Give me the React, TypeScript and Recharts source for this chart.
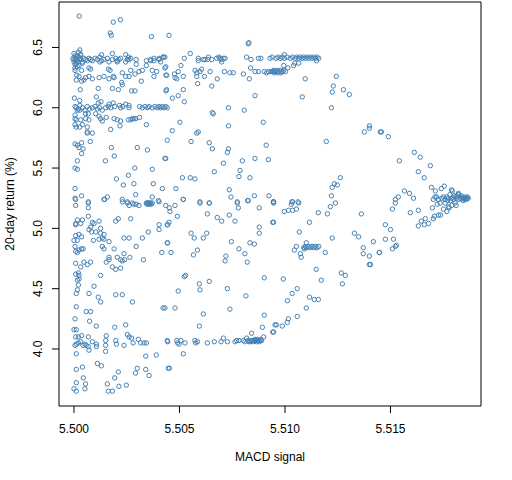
import React from 'react';
import { ScatterChart, Scatter, XAxis, YAxis, ReferenceArea } from 'recharts';

type Pt = [number, number];

const FONT = '"Liberation Sans", Arial, Helvetica, sans-serif';
const POINT_COLOR = '#4682B4';

const xTicks = [5.5, 5.505, 5.51, 5.515];
const yTicks = [4.0, 4.5, 5.0, 5.5, 6.0, 6.5];
const xDomain: [number, number] = [5.49929, 5.51929];
const yDomain: [number, number] = [3.527, 6.877];

const upperLeft: Pt[] = [
  [5.50025,6.76],[5.50186,6.71],[5.5022,6.73],[5.50172,6.62],[5.50177,6.6],[5.50367,6.59],[5.5045,6.6],
  [5.5,6.4],[5.50008,6.41],[5.50016,6.39],[5.50024,6.42],[5.50032,6.4],[5.5004,6.38],[5.50047,6.41],[5.50055,6.4],[5.50063,6.39],[5.50071,6.41],[5.50079,6.4],[5.50087,6.39],[5.501,6.41],[5.50111,6.4],[5.50122,6.42],[5.50131,6.39],[5.50142,6.4],[5.50158,6.41],[5.50166,6.38],[5.50182,6.4],[5.50198,6.41],[5.50205,6.39],[5.50213,6.4],[5.50221,6.41],[5.50245,6.38],[5.50253,6.4],[5.50269,6.41],[5.50295,6.4],[5.50343,6.39],[5.50363,6.4],[5.50379,6.41],[5.50403,6.4],[5.50411,6.38],[5.50423,6.42],
  [5.5,6.45],[5.50005,6.43],[5.50008,6.4],[5.5,6.38],[5.50011,6.37],[5.50016,6.43],[5.50021,6.38],[5.50027,6.4],[5.50005,6.36],[5.50032,6.44],[5.49995,6.41],[5.50016,6.34],[5.50024,6.35],[5.5004,6.37],[5.50005,6.31],
  [5.50028,6.48],[5.50021,6.46],[5.5003,6.44],[5.50131,6.44],[5.50182,6.45],[5.50245,6.44],[5.50258,6.42],
  [5.50122,6.38],[5.50205,6.38],[5.50261,6.4],[5.50295,6.36],[5.50343,6.35],[5.50363,6.39],[5.50379,6.39],[5.50403,6.41],[5.50423,6.42],[5.50435,6.34],
  [5.50005,6.33],[5.50036,6.31],[5.50071,6.33],[5.50079,6.32],[5.50163,6.32],[5.50171,6.31],[5.50229,6.29],[5.50269,6.31],[5.50308,6.3],[5.50324,6.31],[5.50371,6.31],[5.50392,6.3],
  [5.50013,6.27],[5.50024,6.26],[5.50055,6.25],[5.50071,6.26],[5.50087,6.24],[5.50047,6.23],[5.50036,6.22],[5.50011,6.23],[5.50119,6.25],[5.50142,6.26],[5.50166,6.24],[5.50186,6.26],[5.5019,6.25],[5.50245,6.26],[5.50261,6.26],[5.50289,6.28],[5.50319,6.22],[5.50379,6.26],[5.50436,6.27],
  [5.50226,6.21],[5.50229,6.19],
  [5.5003,6.15],[5.50115,6.16],[5.50182,6.16],[5.5021,6.15],[5.50273,6.14],[5.50289,6.14],[5.50436,6.14],
  [5.50002,6.08],[5.50027,6.06],[5.50106,6.09],[5.50115,6.04],[5.50128,6.05],[5.50166,6.03],[5.50186,6.04],[5.50216,6.02],[5.50245,6.03],[5.50261,6.0],
  [5.50005,6.01],[5.50011,6.0],[5.50021,5.99],[5.50028,6.02],[5.5004,6.0],[5.50052,5.98],[5.50063,6.01],[5.50074,5.99],[5.50087,6.0],[5.501,6.01],[5.50111,5.99],[5.50122,6.0],[5.50134,5.98],[5.5015,6.0],[5.50163,6.01],[5.50174,6.0],[5.50193,6.01],[5.50221,6.0],[5.50232,6.01],[5.50261,6.02],[5.50311,6.01],[5.50324,6.0],[5.50337,6.01],[5.50348,6.0],[5.50356,6.01],[5.50371,6.0],[5.50384,6.01],[5.50395,6.0],[5.50403,6.01],[5.50411,6.0],[5.50419,6.01],[5.50427,6.0],[5.50435,6.01],[5.50442,6.0],
  [5.50016,5.98],[5.50027,5.98],[5.50055,5.95],[5.50068,5.95],[5.50103,5.95],
  [5.50005,5.94],[5.50005,5.91],[5.50011,5.9],[5.50032,5.9],[5.50055,5.91],[5.50071,5.9],[5.50119,5.93],[5.50126,5.91],[5.50134,5.89],[5.50153,5.92],[5.5019,5.91],[5.50205,5.9],[5.50221,5.89],[5.50258,5.9],[5.50269,5.9],[5.50277,5.91],[5.50284,5.91],[5.50292,5.91],[5.50311,5.92],
  [5.50005,5.86],[5.50011,5.84],[5.50027,5.84],[5.5004,5.86],[5.50063,5.84],[5.50218,5.85],[5.50343,5.86],[5.50174,5.82],[5.50063,5.8],[5.50063,5.79],[5.50087,5.79],[5.50077,5.72],
  [5.50005,5.7],[5.50016,5.69],[5.50024,5.67],[5.50036,5.71],[5.50043,5.66],[5.50036,5.62],[5.50177,5.67],[5.503,5.67],[5.50348,5.65],
  [5.50016,5.56],[5.50191,5.6],[5.50149,5.56],[5.50435,5.58],[5.50005,5.5],[5.50016,5.49],[5.50288,5.5],[5.50371,5.49],
  [5.50258,5.44],[5.50201,5.41],[5.50234,5.36],[5.50284,5.37],[5.50376,5.37],[5.50419,5.33],[5.50005,5.33],
  [5.50036,5.27],[5.50005,5.25],[5.50158,5.26],[5.50145,5.24],[5.50068,5.22],[5.50229,5.24],[5.50229,5.22],[5.50253,5.22],[5.50277,5.21],[5.50292,5.28],[5.50348,5.21],[5.50356,5.21],[5.50371,5.26],[5.504,5.23],
];

const lowerLeft: Pt[] = [
  [5.50008,5.24],[5.50008,5.19],[5.50068,5.21],[5.50068,5.17],[5.50142,5.24],[5.50253,5.21],[5.50261,5.19],[5.50284,5.2],[5.50295,5.2],[5.50308,5.19],[5.50343,5.21],[5.50352,5.21],[5.50363,5.21],[5.50371,5.21],[5.50403,5.22],[5.50435,5.19],[5.50346,5.2],[5.50358,5.2],[5.50366,5.2],
  [5.50068,5.1],[5.50016,5.07],[5.5004,5.07],[5.50008,5.04],[5.50008,5.03],[5.50032,5.04],[5.50087,5.05],[5.50095,5.04],[5.50119,5.06],[5.50079,5.01],[5.50071,4.99],[5.50084,4.97],[5.50103,4.97],[5.50126,5.0],[5.50126,4.96],[5.50142,4.95],[5.50134,4.92],[5.50198,5.06],[5.5021,5.08],[5.50269,5.08],[5.50403,5.03],[5.50403,4.99],[5.50442,5.03],[5.50352,4.97],
  [5.50008,4.94],[5.50024,4.95],[5.50036,4.93],[5.5,4.9],[5.50016,4.9],[5.50092,4.9],[5.50119,4.91],[5.50142,4.91],[5.50166,4.89],[5.50134,4.85],[5.50142,4.83],[5.5019,4.83],[5.50005,4.85],[5.50008,4.81],[5.50016,4.8],[5.50024,4.82],[5.50036,4.83],[5.50043,4.83],[5.50237,4.92],[5.50261,4.92],[5.50324,4.92],[5.50295,4.85],[5.50416,4.8],[5.50442,4.88],[5.50237,4.79],
  [5.50166,4.76],[5.50166,4.74],[5.50205,4.76],[5.50221,4.74],[5.50229,4.73],[5.5024,4.74],[5.50265,4.76],[5.50329,4.74],[5.50008,4.71],[5.50047,4.72],[5.50063,4.7],[5.50079,4.72],[5.50032,4.68],[5.50153,4.72],[5.50182,4.68],[5.50198,4.66],[5.50221,4.67],[5.50008,4.62],[5.50021,4.63],[5.50024,4.61],[5.50126,4.61],
  [5.50016,4.57],[5.50024,4.58],[5.50021,4.53],[5.50016,4.49],[5.50011,4.46],[5.50071,4.46],[5.50095,4.52],[5.50115,4.43],[5.50126,4.39],[5.50198,4.45],[5.50229,4.45],[5.50277,4.39],[5.50011,4.35],[5.50058,4.31],[5.50079,4.31],[5.50422,4.34],[5.50005,4.25],[5.50074,4.23],[5.50106,4.19],[5.50193,4.18],[5.50245,4.2],
  [5.5,4.16],[5.50011,4.16],[5.50008,4.1],[5.50021,4.1],[5.50036,4.11],[5.50032,4.06],[5.50011,4.04],[5.50005,4.03],[5.50021,4.05],[5.50043,4.03],[5.50052,4.04],[5.50058,4.03],[5.50068,4.1],[5.50068,4.02],[5.50071,3.99],[5.50087,4.06],[5.50106,4.04],[5.50106,4.02],[5.5015,4.07],[5.50153,4.11],[5.5015,4.03],[5.50198,4.07],[5.50201,4.04],[5.50237,4.03],[5.50253,4.12],[5.50261,4.1],[5.50273,4.09],[5.5028,4.05],[5.50305,4.08],[5.50316,4.05],[5.50332,4.05],[5.50343,4.05],[5.50442,4.07],
  [5.50011,3.96],[5.5015,3.98],[5.5034,3.94],[5.5039,3.95],[5.50111,3.88],[5.5013,3.86],[5.5004,3.85],[5.50011,3.83],[5.5021,3.81],[5.503,3.84],[5.50292,3.8],[5.5034,3.83],[5.50356,3.78],[5.50447,3.84],
  [5.50044,3.76],[5.50055,3.71],[5.50011,3.72],[5.50158,3.71],[5.50193,3.76],[5.50213,3.69],[5.50248,3.7],[5.5,3.67],[5.50011,3.65],[5.50052,3.67],[5.50163,3.65],[5.50182,3.65],
];

const upperMid: Pt[] = [
  [5.50826,6.53],[5.50829,6.54],
  [5.50551,6.45],[5.50523,6.41],[5.50589,6.41],[5.50589,6.39],[5.50613,6.4],[5.50621,6.4],[5.50634,6.4],[5.50637,6.42],[5.50653,6.4],[5.50676,6.41],[5.50687,6.42],[5.50692,6.41],[5.50697,6.4],[5.507,6.38],[5.50708,6.41],[5.50716,6.41],[5.50818,6.42],[5.50839,6.4],[5.50874,6.41],[5.50886,6.41],[5.50929,6.41],[5.50431,6.42],
  [5.50431,6.33],[5.50507,6.35],[5.50494,6.3],[5.50476,6.28],[5.50479,6.25],[5.50487,6.24],[5.50518,6.26],[5.50574,6.31],[5.50582,6.29],[5.50597,6.3],[5.50605,6.32],[5.50618,6.26],[5.50645,6.3],[5.50582,6.26],[5.50586,6.2],[5.50653,6.18],[5.50679,6.24],[5.50713,6.3],[5.50739,6.29],[5.50755,6.29],[5.50803,6.28],[5.50831,6.24],[5.50837,6.33],[5.50858,6.3],[5.50874,6.3],[5.50902,6.3],[5.50913,6.29],[5.50921,6.3],[5.50933,6.3],[5.50945,6.3],[5.50439,6.27],
  [5.50439,6.15],[5.50518,6.15],[5.50466,6.08],[5.50494,6.1],[5.50523,6.05],[5.50858,6.1],
  [5.50732,6.0],[5.50807,5.98],[5.50656,5.96],[5.5066,5.95],[5.50502,5.88],[5.50897,5.88],[5.50732,5.85],
  [5.50466,5.81],[5.50582,5.79],[5.50589,5.8],[5.50555,5.72],[5.50641,5.71],[5.50442,5.73],[5.50656,5.66],[5.50732,5.66],[5.50727,5.63],[5.50911,5.69],
  [5.50431,5.58],[5.50858,5.58],[5.50921,5.57],[5.50708,5.54],[5.50798,5.56],[5.50665,5.47],[5.50787,5.48],[5.50782,5.43],[5.50834,5.42],[5.50514,5.42],[5.50551,5.42],[5.50573,5.41],
  [5.50483,5.33],[5.50736,5.32],[5.50518,5.24],[5.50744,5.26],[5.50855,5.27],[5.50924,5.27],[5.50597,5.22],[5.50641,5.21],[5.50774,5.22],[5.50826,5.23],[5.50945,5.22],
];

const lowerMid: Pt[] = [
  [5.50452,5.17],[5.50455,5.14],[5.50479,5.19],[5.5049,5.1],[5.50518,5.24],[5.50597,5.21],[5.50641,5.21],[5.50632,5.12],[5.50679,5.09],[5.507,5.06],[5.50736,5.11],[5.50763,5.06],[5.50774,5.21],[5.50779,5.17],[5.50823,5.23],[5.50878,5.17],[5.50945,5.22],[5.50942,5.05],[5.50444,5.03],[5.5045,5.05],
  [5.50555,4.96],[5.5057,4.92],[5.50613,4.92],[5.50629,4.96],[5.50444,4.88],[5.50746,4.89],[5.50834,4.88],[5.50855,4.87],[5.50878,5.01],[5.50878,4.96],[5.5046,4.8],[5.50566,4.78],[5.50585,4.82],[5.50782,4.83],[5.5081,4.79],[5.50821,4.72],[5.5072,4.77],[5.50716,4.73],
  [5.50523,4.6],[5.50529,4.61],[5.50594,4.54],[5.50597,4.49],[5.50641,4.56],[5.50727,4.5],[5.50494,4.48],[5.50815,4.44],[5.50902,4.59],[5.50431,4.34],[5.50479,4.34],[5.50739,4.33],[5.50613,4.29],[5.50902,4.28],[5.50594,4.19],[5.50893,4.18],[5.50953,4.2],[5.50942,4.14],
  [5.50444,4.06],[5.50487,4.07],[5.50491,4.05],[5.50498,4.04],[5.50507,4.07],[5.50526,4.05],[5.50573,4.07],[5.50577,4.05],[5.50585,4.06],[5.50632,4.05],[5.50665,4.06],[5.50697,4.06],[5.50708,4.09],[5.50727,4.06],[5.50763,4.06],[5.50771,4.07],[5.50782,4.07],[5.50803,4.07],[5.5081,4.06],[5.50818,4.09],[5.50829,4.06],[5.50839,4.07],[5.50845,4.07],[5.50855,4.07],[5.50861,4.07],[5.50868,4.07],[5.50874,4.07],[5.50882,4.07],[5.50889,4.07],[5.50899,4.1],[5.50842,4.13],
  [5.50835,4.06],[5.5085,4.06],[5.50865,4.06],[5.50878,4.06],[5.50886,4.08],[5.50825,4.07],[5.50858,4.08],[5.5087,4.08],
  [5.50518,3.96],[5.50452,3.84],
];

const upperRight: Pt[] = [
  [5.50939,6.42],[5.50958,6.41],[5.50967,6.42],[5.50978,6.41],[5.50986,6.42],[5.50997,6.41],[5.5101,6.42],[5.51025,6.41],[5.51036,6.42],[5.51049,6.41],[5.51057,6.42],[5.51065,6.41],[5.51073,6.42],[5.51081,6.41],[5.51088,6.42],[5.51096,6.41],[5.51104,6.42],[5.51112,6.41],[5.5112,6.42],[5.51128,6.41],[5.51136,6.42],[5.51144,6.41],[5.51152,6.42],[5.5116,6.41],
  [5.50997,6.44],[5.51149,6.39],[5.51065,6.37],[5.51046,6.37],[5.51041,6.35],[5.51014,6.33],[5.50994,6.35],
  [5.50939,6.3],[5.50946,6.31],[5.50954,6.3],[5.50962,6.31],[5.5097,6.3],[5.50978,6.31],[5.50986,6.3],[5.50994,6.31],[5.51002,6.3],[5.5095,6.29],[5.50966,6.29],[5.50982,6.29],
  [5.51096,6.24],[5.51243,6.26],[5.51229,6.18],[5.51224,6.13],[5.51277,6.15],[5.51305,6.11],[5.51082,6.09],[5.5122,6.0],[5.514,5.85],[5.514,5.83],[5.51376,5.8],[5.51452,5.8],[5.51196,5.72],
  [5.51262,5.42],[5.51234,5.37],[5.51248,5.36],[5.51224,5.34],[5.5122,5.27],[5.51239,5.21],[5.51033,5.22],[5.51062,5.22],[5.50946,5.22],
];

const lowerRight: Pt[] = [
  [5.50946,5.21],[5.5103,5.2],[5.51036,5.22],[5.51065,5.21],[5.50997,5.14],[5.51017,5.15],[5.51036,5.15],[5.51054,5.16],[5.51158,5.13],[5.51201,5.12],[5.51215,5.18],[5.51362,5.12],[5.50946,5.05],[5.51116,5.05],[5.51068,4.97],[5.51224,4.92],[5.51329,4.96],[5.51349,4.93],[5.51419,4.89],[5.51371,4.84],[5.51371,4.79],[5.514,4.77],[5.51447,4.8],[5.514,4.7],[5.51405,4.7],
  [5.51089,4.84],[5.51096,4.85],[5.51104,4.84],[5.51112,4.85],[5.5112,4.84],[5.51128,4.85],[5.51136,4.84],[5.51144,4.85],[5.51152,4.84],[5.5116,4.85],
  [5.51054,4.85],[5.51044,4.82],[5.51101,4.88],[5.51073,4.79],[5.51077,4.76],[5.51191,4.8],[5.51092,4.83],
  [5.51148,4.66],[5.51172,4.57],[5.50992,4.58],[5.51267,4.63],[5.51286,4.61],[5.51272,4.54],[5.51058,4.5],[5.51034,4.46],[5.51011,4.4],[5.51116,4.43],[5.51139,4.41],[5.51158,4.41],[5.51101,4.34],[5.51058,4.27],[5.51016,4.25],[5.51011,4.22],[5.50987,4.19],[5.50959,4.2],[5.50946,4.14],
];

const farRight: Pt[] = [
  [5.51457,5.8],[5.5149,5.76],[5.51613,5.63],[5.51641,5.59],[5.51542,5.56],[5.51689,5.52],[5.51632,5.47],[5.5166,5.42],[5.51694,5.34],[5.51713,5.31],[5.51741,5.33],[5.51755,5.35],[5.51789,5.32],[5.51793,5.31],[5.51566,5.31],[5.5159,5.29],[5.51609,5.25],[5.51537,5.26],[5.51523,5.24],[5.51523,5.21],[5.51509,5.16],[5.51594,5.13],[5.51632,5.15],[5.51699,5.17],[5.51708,5.1],[5.51727,5.11],[5.51737,5.11],[5.51703,5.08],[5.51665,5.08],[5.5168,5.04],[5.51646,5.06],[5.5166,5.03],[5.51632,5.02],[5.51476,5.03],[5.515,4.99],[5.51476,4.91],[5.51514,4.91],[5.51509,4.83],[5.51523,4.85],[5.51528,4.86],[5.51447,4.8],
  [5.51703,5.24],[5.51719,5.26],[5.51727,5.24],[5.51743,5.25],[5.51751,5.26],[5.51759,5.24],[5.51767,5.26],[5.51775,5.25],[5.51782,5.28],[5.5179,5.25],[5.51798,5.24],[5.51806,5.26],[5.51814,5.25],[5.51822,5.28],[5.5183,5.25],[5.51838,5.25],[5.51845,5.25],[5.51853,5.25],[5.51861,5.25],[5.51869,5.25],
  [5.51806,5.21],[5.51811,5.19],[5.5179,5.19],[5.51775,5.18],[5.51759,5.21],[5.51751,5.16],[5.51767,5.14],[5.51778,5.17],[5.51721,5.2],[5.51735,5.21],[5.51711,5.26],[5.51822,5.29],
  [5.5184,5.26],[5.5185,5.24],[5.51855,5.26],[5.5186,5.24],[5.51865,5.26],[5.51825,5.24],[5.51815,5.27],[5.518,5.27],[5.51785,5.23],[5.5177,5.23],[5.51845,5.23],[5.51835,5.27],
];

const points = [...upperLeft, ...lowerLeft, ...upperMid, ...lowerMid, ...upperRight, ...lowerRight, ...farRight].map(
  ([x, y]) => ({ x, y })
);

const OpenCircle = (props: any) => (
  <circle cx={props.cx} cy={props.cy} r={2.2} fill="none" stroke={POINT_COLOR} strokeWidth={1} />
);

const XTick = (props: any) => {
  const { x, y, payload } = props;
  return (
    <text x={x} y={y} textAnchor="middle" fontSize={12} fontFamily={FONT} fill="#000">
      {Number(payload.value).toFixed(3)}
    </text>
  );
};

const YTick = (props: any) => {
  const { x, y, payload } = props;
  return (
    <text x={x} y={y} transform={`rotate(-90, ${x}, ${y})`} textAnchor="middle" fontSize={12} fontFamily={FONT} fill="#000">
      {Number(payload.value).toFixed(1)}
    </text>
  );
};

const XTitle = (props: any) => {
  const vb = props.viewBox;
  return (
    <text x={vb.x + vb.width / 2} y={vb.y + 55} textAnchor="middle" fontSize={12} fontFamily={FONT} fill="#000">
      MACD signal
    </text>
  );
};

const YTitle = (props: any) => {
  const vb = props.viewBox;
  const cx = vb.x + 14;
  const cy = vb.y + vb.height / 2;
  return (
    <text x={cx} y={cy} transform={`rotate(-90, ${cx}, ${cy})`} textAnchor="middle" fontSize={12} fontFamily={FONT} fill="#000">
      20-day return (%)
    </text>
  );
};

export default function App() {
  return (
    <div style={{ position: 'absolute', left: 0, top: 0, width: 512, height: 480, background: '#fff' }}>
      <ScatterChart width={512} height={480} margin={{ top: 2, right: 31, bottom: 0, left: 0 }}>
        <XAxis
          type="number"
          dataKey="x"
          domain={xDomain}
          allowDataOverflow
          ticks={xTicks}
          axisLine={false}
          tickLine={{ stroke: '#000' }}
          tickSize={7}
          tickMargin={20}
          height={74}
          tick={<XTick />}
          label={<XTitle />}
          interval={0}
        />
        <YAxis
          type="number"
          dataKey="y"
          domain={yDomain}
          allowDataOverflow
          ticks={yTicks}
          axisLine={false}
          tickLine={{ stroke: '#000' }}
          tickSize={7}
          tickMargin={9.5}
          width={59}
          tick={<YTick />}
          label={<YTitle />}
          interval={0}
        />
        <Scatter data={points} shape={<OpenCircle />} isAnimationActive={false} />
        <ReferenceArea
          x1={xDomain[0]}
          x2={xDomain[1]}
          y1={yDomain[0]}
          y2={yDomain[1]}
          fill="none"
          fillOpacity={0}
          stroke="#000"
          strokeWidth={1}
          ifOverflow="visible"
        />
      </ScatterChart>
    </div>
  );
}
